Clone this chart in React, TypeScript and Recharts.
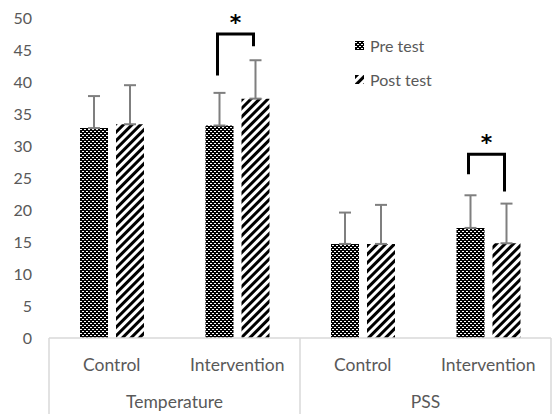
import React from 'react';
import { BarChart, Bar, XAxis, YAxis, ErrorBar, Rectangle } from 'recharts';

const categories = ['Control', 'Intervention', 'Control', 'Intervention'];
const groups = ['Temperature', 'Temperature', 'PSS', 'PSS'];
const preMeans = [32.8, 33.2, 14.7, 17.2];
const preSD = [5.0, 5.1, 4.9, 5.1];
const postMeans = [33.4, 37.4, 14.7, 14.8];
const postSD = [6.1, 6.0, 6.1, 6.2];
const yTicks = [0, 5, 10, 15, 20, 25, 30, 35, 40, 45, 50];

// significance brackets (category index, bracket top, left leg end, right leg end)
const bracketIdx = [1, 3];
const bracketTop = [47.5, 28.7];
const bracketLeft = [41.0, 25.6];
const bracketRight = [45.6, 22.9];

const data = categories.map((c, i) => ({
  name: c,
  group: groups[i],
  pre: preMeans[i],
  preErr: [0, preSD[i]],
  post: postMeans[i],
  postErr: [0, postSD[i]],
}));

const FONT = 'Lato, "Open Sans", sans-serif';
const GREY = '#595959';
const AXIS = '#d9d9d9';
const BAR_GAP = 8;

const CategoryTick = (props: any) => {
  const { x, y, payload, index } = props;
  const half = payload.offset ?? 62.75;
  return (
    <g>
      <text x={x} y={y + 33} textAnchor="middle" fill={GREY} fontSize={17.5} fontFamily={FONT}>
        {payload.value}
      </text>
      {index % 2 === 0 && (
        <>
          <line x1={x - half} x2={x - half} y1={y} y2={y + 76} stroke={AXIS} strokeWidth={1.5} />
          <text x={x + half} y={y + 70} textAnchor="middle" fill={GREY} fontSize={17.5} fontFamily={FONT}>
            {groups[index]}
          </text>
        </>
      )}
      {index === categories.length - 1 && (
        <line x1={x + half} x2={x + half} y1={y} y2={y + 76} stroke={AXIS} strokeWidth={1.5} />
      )}
    </g>
  );
};

// post bar plus the bracket/asterisk above the pre/post pair
const PostShape = (props: any) => {
  const { x, y, width, height, index, payload } = props;
  const k = bracketIdx.indexOf(index);
  const unit = height / payload.post;
  const base = y + height;
  const yOf = (v: number) => base - v * unit;
  const right = x + width / 2 - 2;
  const left = x - BAR_GAP - width / 2 - 2;
  return (
    <g>
      <Rectangle {...props} />
      {k >= 0 && (
        <>
          <path
            d={`M${left},${yOf(bracketLeft[k])} L${left},${yOf(bracketTop[k])} L${right},${yOf(bracketTop[k])} L${right},${yOf(bracketRight[k])}`}
            fill="none"
            stroke="#000"
            strokeWidth={3}
          />
          <text
            x={(left + right) / 2}
            y={yOf(bracketTop[k]) - 4}
            textAnchor="middle"
            fontSize={22}
            fontWeight="bold"
            fontFamily="'DejaVu Sans', sans-serif"
            fill="#000"
          >
            *
          </text>
        </>
      )}
    </g>
  );
};

const LegendRow = ({ fill, label, top }: { fill: string; label: string; top: number }) => (
  <div style={{ position: 'absolute', left: 355, top, display: 'flex', alignItems: 'center' }}>
    <svg width={10} height={10} style={{ marginRight: 5 }}>
      <rect x={0} y={0} width={9} height={9} fill={fill} />
    </svg>
    <span style={{ fontFamily: FONT, fontSize: 16, color: GREY, lineHeight: '16px' }}>{label}</span>
  </div>
);

export default function App() {
  return (
    <div style={{ position: 'absolute', left: 0, top: 0, width: 552, height: 414, background: '#fff' }}>
      <BarChart
        width={552}
        height={414}
        data={data}
        margin={{ top: 18, right: 1, bottom: 0, left: 0 }}
        barSize={28}
        barGap={BAR_GAP}
      >
        <defs>
          <pattern id="prePattern" width={4} height={4} patternUnits="userSpaceOnUse">
            <rect width={4} height={4} fill="#000" />
            <rect x={0} y={1} width={2} height={1} fill="#fff" />
            <rect x={2} y={3} width={2} height={1} fill="#fff" />
          </pattern>
          <pattern
            id="postPattern"
            width={6}
            height={6}
            patternUnits="userSpaceOnUse"
            patternTransform="rotate(45)"
          >
            <rect width={6} height={6} fill="#fff" />
            <rect width={3} height={6} fill="#000" />
          </pattern>
        </defs>
        <XAxis
          dataKey="name"
          axisLine={{ stroke: AXIS, strokeWidth: 1.5 }}
          tickLine={false}
          tickSize={0}
          tickMargin={0}
          height={76}
          interval={0}
          tick={<CategoryTick />}
        />
        <YAxis
          domain={[0, 50]}
          ticks={yTicks}
          width={49}
          axisLine={false}
          tickLine={false}
          tickSize={0}
          tickMargin={17}
          tick={{ fill: GREY, fontSize: 16, fontFamily: FONT }}
        />
        <Bar dataKey="pre" name="Pre test" fill="url(#prePattern)" isAnimationActive={false}>
          <ErrorBar dataKey="preErr" direction="y" stroke="#7f7f7f" strokeWidth={2} width={6} />
        </Bar>
        <Bar dataKey="post" name="Post test" fill="url(#postPattern)" isAnimationActive={false} shape={<PostShape />}>
          <ErrorBar dataKey="postErr" direction="y" stroke="#7f7f7f" strokeWidth={2} width={6} />
        </Bar>
      </BarChart>
      <LegendRow fill="url(#prePattern)" label="Pre test" top={38} />
      <LegendRow fill="url(#postPattern)" label="Post test" top={72} />
    </div>
  );
}
